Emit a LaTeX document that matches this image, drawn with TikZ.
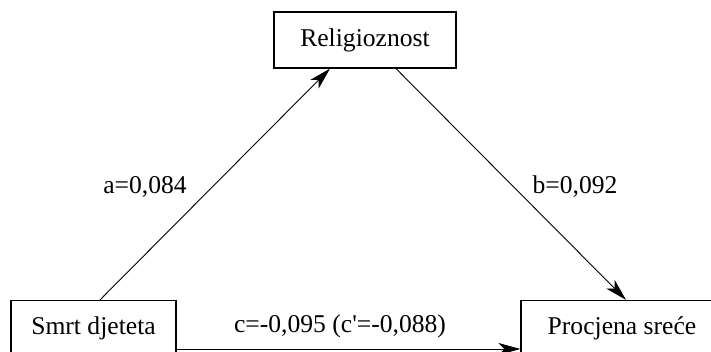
\documentclass[tikz,border=0pt]{standalone}
\usepackage{fontspec}
\setmainfont{Liberation Serif}
\usetikzlibrary{arrows.meta,calc}
\tikzset{
  boxnode/.style={draw, line width=0.6pt, rectangle, minimum height=28pt, inner sep=0pt, font=\fontsize{12.8}{15}\selectfont},
  lbl/.style={font=\fontsize{12.8}{15}\selectfont, inner sep=0pt},
  conn/.style={line width=0.45pt, -{Stealth[length=11pt, width=6pt, inset=3pt]}}
}
\begin{document}
\begin{tikzpicture}[x=0.5pt,y=-0.5pt]
\useasboundingbox (0,0) rectangle (711,352);
\clip (0,0) rectangle (711,352);
\node[boxnode, minimum width=91pt] (rel) at (365,40) {Religioznost};
\node[boxnode, minimum width=82.5pt] (smrt) at (93.5,328.5) {Smrt djeteta};
\node[boxnode, minimum width=101pt] (proc) at (622,328.5) {Procjena sreće};
\coordinate (aS) at ($(smrt.north)+(6.5,0)$);
\coordinate (aE) at ($(rel.south)+(-35,0)$);
\coordinate (bS) at ($(rel.south)+(31,0)$);
\coordinate (bE) at ($(proc.north)+(4,0)$);
\coordinate (cS) at ($(smrt.east)+(0,20.5)$);
\draw[conn] (aS) -- (aE);
\draw[conn] (bS) -- (bE);
\draw[conn] (cS) -- (proc.west |- cS);
\node[lbl] (la) at (145,187) {a=0,084};
\node[lbl] (lb) at (575,187) {b=0,092};
\node[lbl] (lc) at (340,326) {c=-0,095 (c\textquotesingle=-0,088)};
\end{tikzpicture}
\end{document}
